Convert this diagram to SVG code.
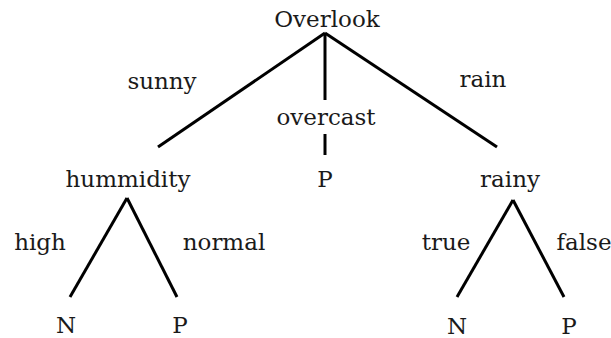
<svg xmlns="http://www.w3.org/2000/svg" width="611" height="338" viewBox="0 0 611 338">
<style>
text{font-family:"DejaVu Serif","Liberation Serif",serif;font-size:23px;fill:#1a1a1a;text-anchor:middle}
.e{stroke:#000;stroke-width:3;fill:none;stroke-linecap:butt}
</style>
<rect width="611" height="338" fill="#fff"/>
<g id="connectors">
<line class="e" x1="325" y1="33" x2="158" y2="147"/>
<line class="e" x1="325" y1="33" x2="325" y2="100"/>
<line class="e" x1="325" y1="33" x2="497" y2="147"/>
<line class="e" x1="325" y1="134" x2="325" y2="155"/>
<line class="e" x1="127" y1="198" x2="70" y2="297"/>
<line class="e" x1="127" y1="198" x2="177" y2="297"/>
<line class="e" x1="513" y1="200" x2="457" y2="297"/>
<line class="e" x1="513" y1="200" x2="564" y2="297"/>
</g>
<g id="labels">
<text x="162" y="89">sunny</text>
<text x="326" y="125">overcast</text>
<text x="483" y="87">rain</text>
<text x="40" y="250">high</text>
<text x="224" y="250">normal</text>
<text x="446" y="250">true</text>
<text x="584" y="250">false</text>
</g>
<g id="n-overlook"><text x="327" y="27">Overlook</text></g>
<g id="n-hummidity"><text x="128" y="187">hummidity</text></g>
<g id="n-p1"><text x="325" y="187">P</text></g>
<g id="n-rainy"><text x="510" y="187">rainy</text></g>
<g id="n-n1"><text x="66" y="333">N</text></g>
<g id="n-p2"><text x="180" y="333">P</text></g>
<g id="n-n2"><text x="457" y="334">N</text></g>
<g id="n-p3"><text x="569" y="334">P</text></g>
</svg>
